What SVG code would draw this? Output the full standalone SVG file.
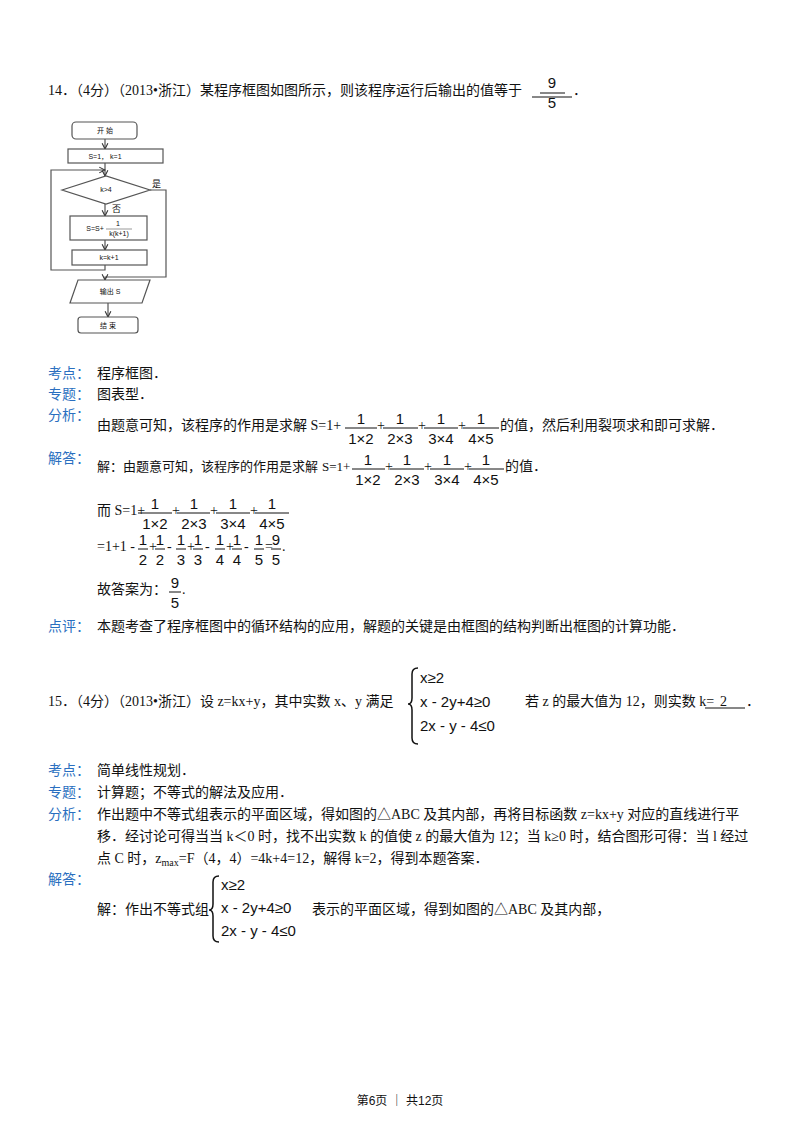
<svg xmlns="http://www.w3.org/2000/svg" width="800" height="1132" viewBox="0 0 800 1132">
<defs><marker id="ar" viewBox="0 0 10 10" refX="9" refY="5" markerWidth="6" markerHeight="6" orient="auto"><path d="M1,1 L9,5 L1,9" fill="none" stroke="#333" stroke-width="1.5"/></marker></defs>
<style>
text{font-family:"Liberation Serif","Noto Sans CJK SC",serif;font-size:14px;fill:#111}
.lb{fill:#2a6fc0}
.f text{text-anchor:middle;font-family:"Liberation Sans","Noto Sans CJK SC",sans-serif;font-size:15px}
.f line{stroke:#111;stroke-width:1}
.n rect,.n path{fill:#fff;stroke:#555;stroke-width:1.2}
.n text{font-family:"Liberation Sans","Noto Sans CJK SC",sans-serif;font-size:7px;text-anchor:middle}
.c path{fill:none;stroke:#555;stroke-width:1.2}
.sys text{font-family:"Liberation Sans","Noto Sans CJK SC",sans-serif;font-size:15px}
</style>
<rect width="800" height="1132" fill="#fff"/>
<text x="48" y="95">14．（4分）（2013•浙江）某程序框图如图所示，则该程序运行后输出的值等于</text>
<g class="f"><text x="552" y="88">9</text><line x1="540" y1="93" x2="565" y2="93"/><text x="552" y="108">5</text></g>
<line x1="532" y1="97" x2="572" y2="97" stroke="#111"/><text x="573" y="95">．</text>
<g class="c">
<path d="M105,139 V149" marker-end="url(#ar)"/>
<path d="M105,163 V176" marker-end="url(#ar)"/>
<path d="M105,204 V216" marker-end="url(#ar)"/>
<path d="M105,240 V250" marker-end="url(#ar)"/>
<path d="M105,265 V270 H51 V170 H105" marker-end="url(#ar)"/>
<path d="M150,190 H166 V277 H105 V280" marker-end="url(#ar)"/>
<path d="M108,303 V317" marker-end="url(#ar)"/>
</g>
<g class="n" id="start"><rect x="72" y="122" width="65" height="17" rx="4"/><text x="105" y="133">开  始</text></g>
<g class="n" id="init"><rect x="68" y="149" width="95" height="14"/><text x="105" y="159">S=1，  k=1</text></g>
<g class="n" id="cond"><path d="M62,190 L106,176 L150,190 L106,204 Z"/><text x="106" y="192">k&gt;4</text></g>
<g class="n" id="upd"><rect x="70" y="216" width="77" height="24"/><text x="95" y="231">S=S+</text><text x="118" y="226">1</text><line x1="106" y1="229" x2="132" y2="229" stroke="#555" stroke-width="0.6"/><text x="119" y="236">k(k+1)</text></g>
<g class="n" id="inc"><rect x="72" y="250" width="75" height="15"/><text x="109" y="260">k=k+1</text></g>
<g class="n" id="out"><path d="M78,280 L150,280 L142,303 L70,303 Z"/><text x="110" y="294">输出 S</text></g>
<g class="n" id="end"><rect x="78" y="317" width="60" height="16" rx="3"/><text x="108" y="328">结  束</text></g>
<text x="152" y="187" style="font-size:9px">是</text>
<text x="112" y="212" style="font-size:9px">否</text>

<text class="lb" x="48" y="378">考点：</text><text x="97" y="378">程序框图．</text>
<text class="lb" x="48" y="399">专题：</text><text x="97" y="399">图表型．</text>
<text class="lb" x="48" y="420">分析：</text>
<text x="97" y="430">由题意可知，该程序的作用是求解 S=1+</text>
<g class="f">
<text x="361" y="424">1</text><line x1="345" y1="428" x2="377" y2="428"/><text x="361" y="444">1×2</text>
<text x="400" y="424">1</text><line x1="383" y1="428" x2="418" y2="428"/><text x="400" y="444">2×3</text>
<text x="441" y="424">1</text><line x1="424" y1="428" x2="458" y2="428"/><text x="441" y="444">3×4</text>
<text x="481" y="424">1</text><line x1="463" y1="428" x2="499" y2="428"/><text x="481" y="444">4×5</text>
</g>
<text x="377" y="430">+</text><text x="418" y="430">+</text><text x="458" y="430">+</text>
<text x="500" y="430">的值，然后利用裂项求和即可求解．</text>
<text class="lb" x="48" y="463">解答：</text>
<text x="97" y="471" style="font-size:13px">解：由题意可知，该程序的作用是求解</text>
<text x="322" y="471" style="font-size:13px">S=1+</text>
<g class="f">
<text x="368" y="465">1</text><line x1="352" y1="469" x2="385" y2="469"/><text x="368" y="485">1×2</text>
<text x="407" y="465">1</text><line x1="390" y1="469" x2="424" y2="469"/><text x="407" y="485">2×3</text>
<text x="447" y="465">1</text><line x1="430" y1="469" x2="464" y2="469"/><text x="447" y="485">3×4</text>
<text x="486" y="465">1</text><line x1="469" y1="469" x2="504" y2="469"/><text x="486" y="485">4×5</text>
</g>
<text x="385" y="471">+</text><text x="424" y="471">+</text><text x="464" y="471">+</text>
<text x="505" y="471">的值．</text>
<text x="97" y="515">而 S=1+</text>
<g class="f">
<text x="155" y="509">1</text><line x1="138" y1="513" x2="172" y2="513"/><text x="155" y="529">1×2</text>
<text x="194" y="509">1</text><line x1="177" y1="513" x2="210" y2="513"/><text x="194" y="529">2×3</text>
<text x="233" y="509">1</text><line x1="216" y1="513" x2="250" y2="513"/><text x="233" y="529">3×4</text>
<text x="272" y="509">1</text><line x1="255" y1="513" x2="289" y2="513"/><text x="272" y="529">4×5</text>
</g>
<text x="172" y="515">+</text><text x="210" y="515">+</text><text x="250" y="515">+</text>
<text x="97" y="551">=1+1 -</text>
<g class="f">
<text x="143" y="545">1</text><line x1="138" y1="549" x2="148" y2="549"/><text x="143" y="565">2</text>
<text x="160" y="545">1</text><line x1="155" y1="549" x2="165" y2="549"/><text x="160" y="565">2</text>
<text x="181" y="545">1</text><line x1="176" y1="549" x2="186" y2="549"/><text x="181" y="565">3</text>
<text x="198" y="545">1</text><line x1="193" y1="549" x2="203" y2="549"/><text x="198" y="565">3</text>
<text x="220" y="545">1</text><line x1="215" y1="549" x2="225" y2="549"/><text x="220" y="565">4</text>
<text x="237" y="545">1</text><line x1="232" y1="549" x2="242" y2="549"/><text x="237" y="565">4</text>
<text x="259" y="545">1</text><line x1="254" y1="549" x2="264" y2="549"/><text x="259" y="565">5</text>
<text x="276" y="545">9</text><line x1="271" y1="549" x2="281" y2="549"/><text x="276" y="565">5</text>
</g>
<text x="149" y="551">+</text><text x="167" y="551">-</text><text x="187" y="551">+</text><text x="205" y="551">-</text><text x="226" y="551">+</text><text x="244" y="551">-</text><text x="265" y="551">=</text><text x="282" y="551">.</text>
<text x="97" y="594">故答案为：</text>
<g class="f"><text x="175" y="588">9</text><line x1="169" y1="592" x2="181" y2="592"/><text x="175" y="608">5</text></g><text x="182" y="594">.</text>
<text class="lb" x="48" y="631">点评：</text><text x="97" y="631">本题考查了程序框图中的循环结构的应用，解题的关键是由框图的结构判断出框图的计算功能．</text>

<text x="48" y="706">15．（4分）（2013•浙江）设 z=kx+y，其中实数 x、y 满足</text>
<g class="sys">
<path d="M418,668 Q412,668 412,674 V698 Q412,704 408,704 Q412,704 412,710 V738 Q412,744 418,744" fill="none" stroke="#111" stroke-width="1.5"/>
<text x="420" y="683">x≥2</text><text x="420" y="707">x - 2y+4≥0</text><text x="420" y="731">2x - y - 4≤0</text>
</g>
<text x="525" y="706">若 z 的最大值为 12，则实数 k=</text>
<line x1="705" y1="708" x2="745" y2="708" stroke="#111"/><text x="720" y="706">2</text><text x="746" y="706">．</text>
<text class="lb" x="48" y="775">考点：</text><text x="97" y="775">简单线性规划．</text>
<text class="lb" x="48" y="797">专题：</text><text x="97" y="797">计算题；不等式的解法及应用．</text>
<text class="lb" x="48" y="819">分析：</text><text x="97" y="819">作出题中不等式组表示的平面区域，得如图的△ABC 及其内部，再将目标函数 z=kx+y 对应的直线进行平</text>
<text x="97" y="841">移．经讨论可得当当 k＜0 时，找不出实数 k 的值使 z 的最大值为 12；当 k≥0 时，结合图形可得：当 l 经过</text>
<text x="97" y="863">点 C 时，z<tspan font-size="10" dy="3">max</tspan><tspan dy="-3">=F（4，4）=4k+4=12，解得 k=2，得到本题答案．</tspan></text>
<text class="lb" x="48" y="884">解答：</text>
<text x="97" y="914">解：作出不等式组</text>
<g class="sys">
<path d="M219,876 Q213,876 213,882 V904 Q213,910 209,910 Q213,910 213,916 V936 Q213,942 219,942" fill="none" stroke="#111" stroke-width="1.5"/>
<text x="221" y="890">x≥2</text><text x="221" y="913">x - 2y+4≥0</text><text x="221" y="936">2x - y - 4≤0</text>
</g>
<text x="312" y="914">表示的平面区域，得到如图的△ABC 及其内部，</text>
<text x="400" y="1105" text-anchor="middle" style="font-family:'Liberation Sans','Noto Sans CJK SC',sans-serif;font-size:12px">第6页  ｜  共12页</text>
</svg>
